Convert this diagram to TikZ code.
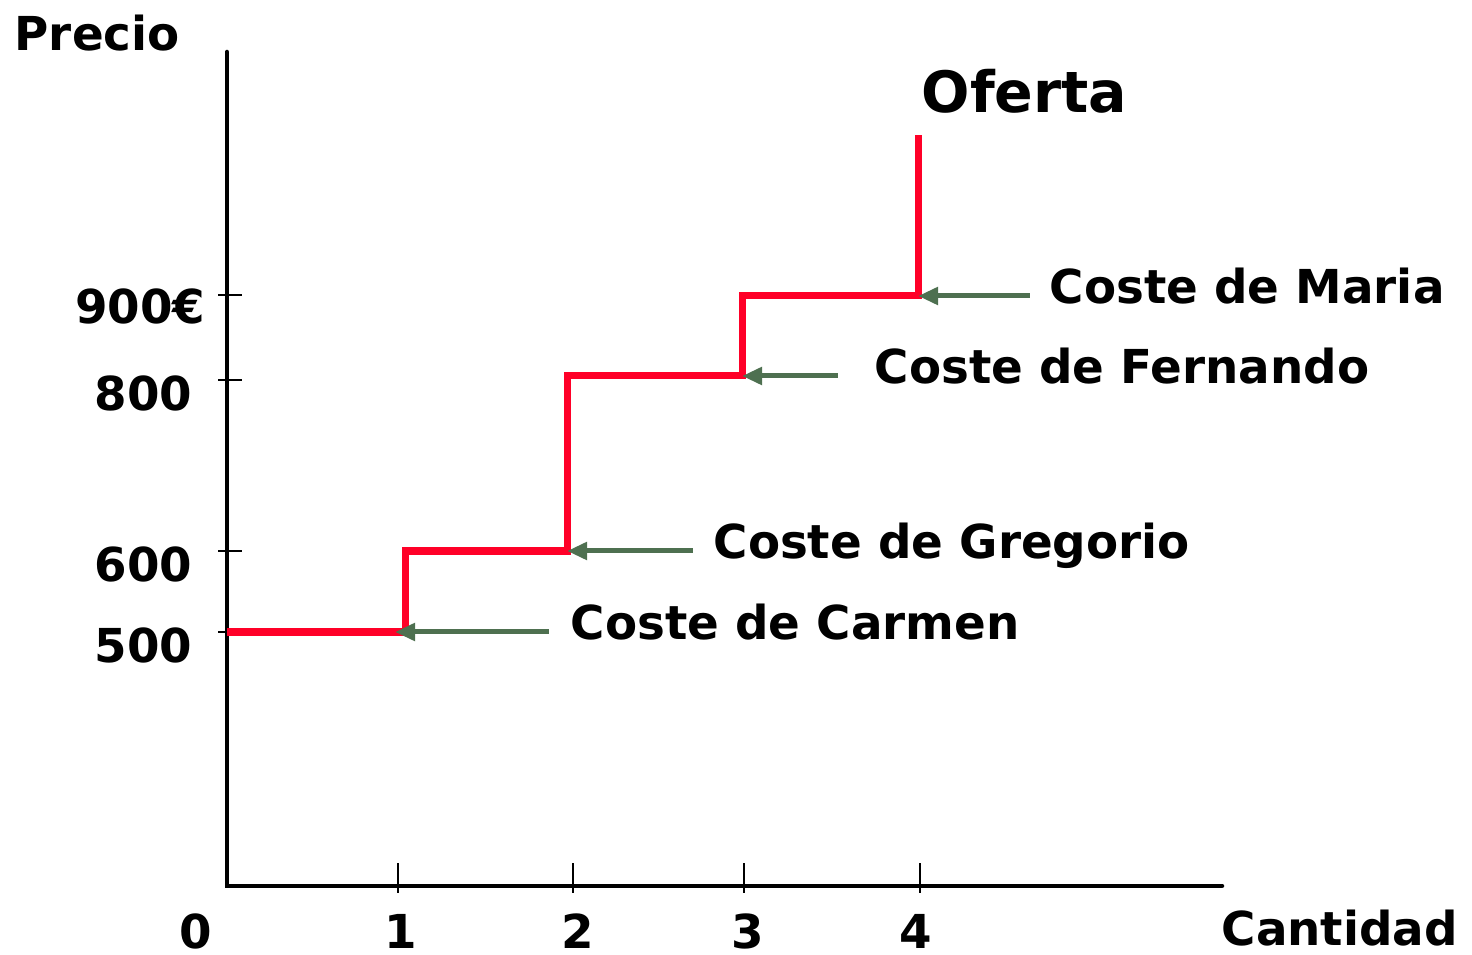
\documentclass[tikz,border=0pt]{standalone}
\usepackage{fontspec}
\setmainfont{DejaVu Sans}
\usetikzlibrary{arrows.meta}

\definecolor{ofertared}{RGB}{255,0,40}
\definecolor{costgreen}{RGB}{78,112,80}

\tikzset{
  axisline/.style={line width=0.045cm, black, line cap=round},
  tickline/.style={line width=0.025cm, black},
  stepline/.style={line width=0.07cm, ofertared, line join=miter},
  costarrow/.style={line width=0.05cm, costgreen, -{Triangle[length=0.2cm,width=0.17cm]}},
  costlabel/.style={anchor=mid west, inner sep=0pt, font=\fontsize{13.3pt}{15pt}\selectfont\bfseries},
  numlabel/.style={inner sep=0pt, font=\fontsize{13.3pt}{15pt}\selectfont\bfseries}
}

\begin{document}
\begin{tikzpicture}[x=0.01cm, y=-0.01cm]
  \useasboundingbox (0,0) rectangle (1472,955);

  % axes
  \coordinate (origin) at (227,886);
  \coordinate (ytop) at (227,52);
  \coordinate (xend) at (1222,886);
  \draw[axisline] (ytop) -- (origin) -- (xend);

  % ticks and values on the price axis
  \foreach \val/\yy in {500/632, 600/551, 800/380} {
    \draw[tickline] (218,\yy) -- (242,\yy);
    \node[numlabel, anchor=east] (p\val) at (193,\yy+13) {\val};
  }
  \draw[tickline] (218,295) -- (242,295);
  \node[numlabel, anchor=east] (p900) at (206,306) {900€};

  % ticks and values on the quantity axis
  \node[numlabel] (q0) at (196,931) {0};
  \foreach \q/\xx/\lx in {1/398/401, 2/573/578, 3/744/748, 4/920/916} {
    \draw[tickline] (\xx,863) -- (\xx,893);
    \node[numlabel] (q\q) at (\lx,931) {\q};
  }

  \node[numlabel, anchor=west] (precio) at (14,33) {Precio};
  \node[numlabel, anchor=west] (cantidad) at (1221,928) {Cantidad};
  \node[anchor=west, inner sep=0pt, font=\fontsize{16.2pt}{18pt}\selectfont\bfseries] (oferta) at (921,91) {Oferta};

  % supply curve
  \coordinate (s0) at (227,632);
  \coordinate (carmen pt) at (405,632);
  \coordinate (gregorio pt) at (567,551);
  \coordinate (fernando pt) at (742,376);
  \coordinate (maria pt) at (918,296);
  \coordinate (s9) at (918,135);
  \draw[stepline] (s0) -- (carmen pt) |- (gregorio pt) |- (fernando pt) |- (maria pt) -- (s9);

  % cost labels
  \node[costlabel] (carmen) at (570,630) {Coste de Carmen};
  \node[costlabel] (gregorio) at (713,549) {Coste de Gregorio};
  \node[costlabel] (fernando) at (874,374) {Coste de Fernando};
  \node[costlabel] (maria) at (1049,294) {Coste de Maria};

  \draw[costarrow] ([xshift=-0.21cm]carmen.mid west |- carmen pt) -- ([xshift=-0.1cm]carmen pt);
  \draw[costarrow] ([xshift=-0.2cm]gregorio.mid west |- gregorio pt) -- (gregorio pt);
  \draw[costarrow] ([xshift=-0.36cm]fernando.mid west |- fernando pt) -- (fernando pt);
  \draw[costarrow] ([xshift=-0.19cm]maria.mid west |- maria pt) -- (maria pt);
\end{tikzpicture}
\end{document}
